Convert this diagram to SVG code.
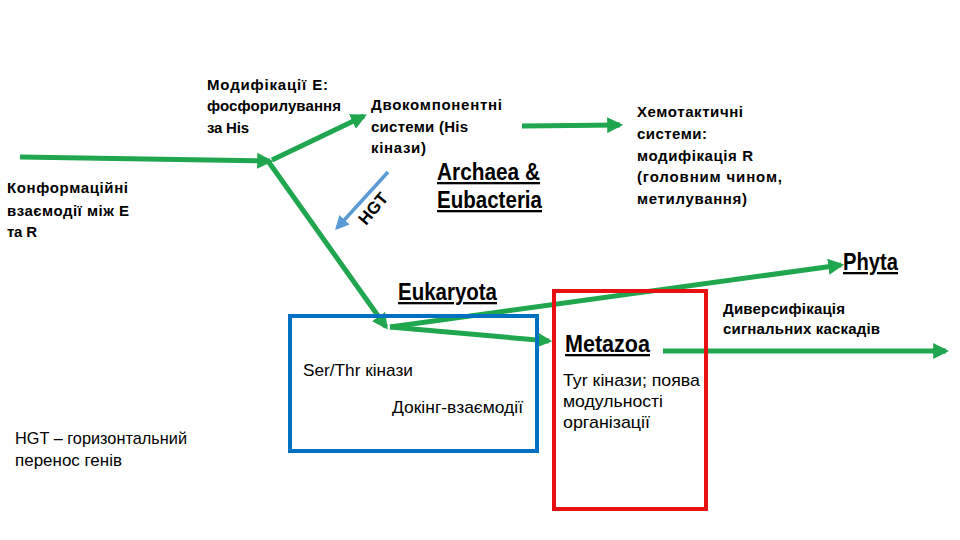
<svg xmlns="http://www.w3.org/2000/svg" width="960" height="540" viewBox="0 0 960 540">
<defs>
<marker id="ga" viewBox="0 0 10 10" refX="8" refY="5" markerWidth="3.2" markerHeight="3.2" orient="auto" markerUnits="strokeWidth"><path d="M0,0 L10,5 L0,10 z" fill="#1fa64f"/></marker>
<marker id="ba" viewBox="0 0 10 10" refX="8" refY="5" markerWidth="4" markerHeight="4" orient="auto" markerUnits="strokeWidth"><path d="M0,0 L10,5 L0,10 z" fill="#5b9bd5"/></marker>
</defs>
<style>
text{font-family:"Liberation Sans",Arial,sans-serif;fill:#000;}
.t{font-size:15px;font-weight:bold;}
.n{font-size:17px;}
.h{font-size:23px;font-weight:bold;text-decoration:underline;}
.g{stroke:#1fa64f;stroke-width:5;fill:none;marker-end:url(#ga);}
</style>
<rect width="960" height="540" fill="#fff"/>
<g id="connectors">
<line class="g" x1="20" y1="157" x2="270" y2="161"/>
<line class="g" x1="272" y1="160" x2="364" y2="116"/>
<line class="g" x1="268" y1="161" x2="386" y2="327"/>
<line class="g" x1="390" y1="327" x2="841" y2="265"/>
<line class="g" x1="390" y1="327" x2="549" y2="341"/>
<line class="g" x1="522" y1="126" x2="620" y2="125"/>
<line class="g" x1="663" y1="351" x2="946" y2="351"/>
<line x1="388" y1="172" x2="337" y2="228" stroke="#5b9bd5" stroke-width="3.5" marker-end="url(#ba)"/>
<text transform="translate(366,226) rotate(-50)" font-size="17" font-weight="bold">HGT</text>
</g>
<g id="mod">
<text class="t" x="207" y="90" textLength="121">Модифікації Е:</text>
<text class="t" x="207" y="111" textLength="134">фосфорилування</text>
<text class="t" x="207" y="133" textLength="42">за His</text>
</g>
<g id="dvo">
<text class="t" x="371" y="110" textLength="131">Двокомпонентні</text>
<text class="t" x="371" y="132" textLength="97">системи (His</text>
<text class="t" x="371" y="153" textLength="55">кінази)</text>
</g>
<g id="konf">
<text class="t" x="7" y="193" textLength="121">Конформаційні</text>
<text class="t" x="7" y="216" textLength="122">взаємодії між Е</text>
<text class="t" x="7" y="237" textLength="30">та R</text>
</g>
<g id="hemo">
<text class="t" x="637" y="117" textLength="106">Хемотактичні</text>
<text class="t" x="637" y="139" textLength="70">системи:</text>
<text class="t" x="637" y="161" textLength="116">модифікація R</text>
<text class="t" x="637" y="182" textLength="145">(головним чином,</text>
<text class="t" x="637" y="204" textLength="110">метилування)</text>
</g>
<g id="archaea">
<text class="h" x="437" y="180" textLength="103" lengthAdjust="spacingAndGlyphs">Archaea &amp;</text>
<text class="h" x="437" y="208" textLength="105" lengthAdjust="spacingAndGlyphs">Eubacteria</text>
</g>
<g id="phyta"><text class="h" x="843" y="270" textLength="55" lengthAdjust="spacingAndGlyphs">Phyta</text></g>
<g id="eukaryota"><text class="h" x="398" y="300" textLength="99" lengthAdjust="spacingAndGlyphs">Eukaryota</text></g>
<g id="diver">
<text class="t" x="723" y="314" textLength="122">Диверсифікація</text>
<text class="t" x="723" y="334" textLength="157">сигнальних каскадів</text>
</g>
<g id="blue-box">
<rect x="290" y="316" width="247" height="135" fill="none" stroke="#0070c0" stroke-width="4"/>
<text class="n" x="303" y="376" textLength="110" lengthAdjust="spacingAndGlyphs">Ser/Thr кінази</text>
<text class="n" x="392" y="413" textLength="131" lengthAdjust="spacingAndGlyphs">Докінг-взаємодії</text>
</g>
<g id="red-box">
<rect x="554" y="291" width="152" height="218" fill="none" stroke="#e81010" stroke-width="4"/>
<text class="h" x="565" y="352" textLength="85" lengthAdjust="spacingAndGlyphs">Metazoa</text>
<text class="n" x="563" y="386" textLength="137" lengthAdjust="spacingAndGlyphs">Tyr кінази; поява</text>
<text class="n" x="563" y="407" textLength="100" lengthAdjust="spacingAndGlyphs">модульності</text>
<text class="n" x="563" y="428" textLength="87" lengthAdjust="spacingAndGlyphs">організації</text>
</g>
<g id="legend">
<text class="n" x="15" y="444" textLength="172" lengthAdjust="spacingAndGlyphs">HGT – горизонтальний</text>
<text class="n" x="15" y="466" textLength="107" lengthAdjust="spacingAndGlyphs">перенос генів</text>
</g>
</svg>
